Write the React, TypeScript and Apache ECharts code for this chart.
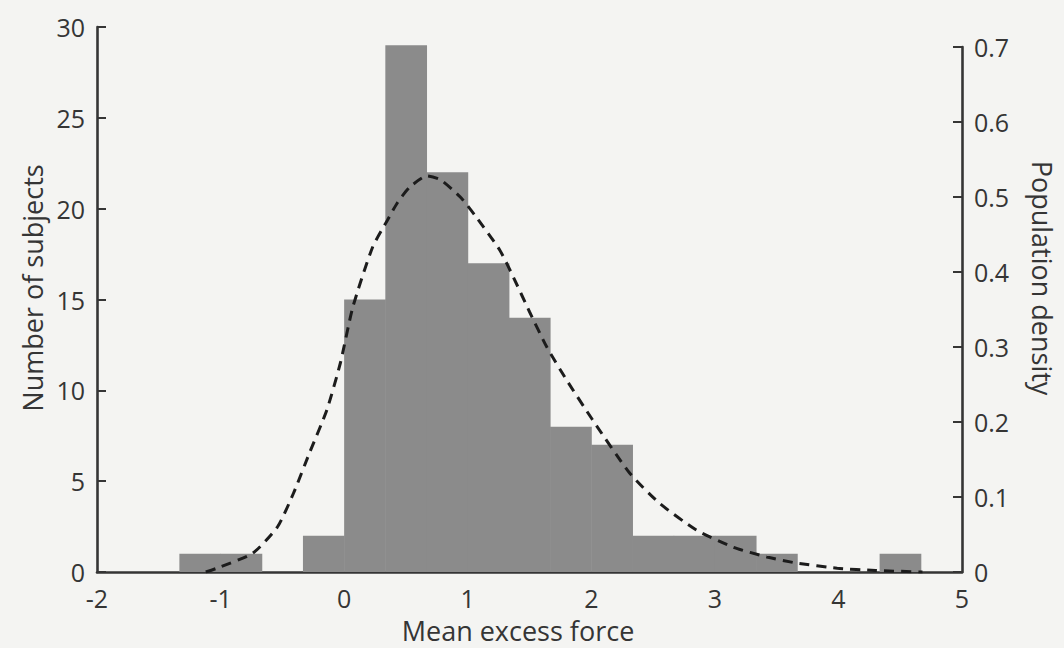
import React, { useEffect, useRef } from "react";
import * as echarts from "echarts";

// Histogram of mean excess force: bin edges (width 1/3) and subject counts per bin
const binEdges = [
  -4 / 3, -1, -2 / 3, -1 / 3, 0, 1 / 3, 2 / 3, 1, 4 / 3, 5 / 3, 2, 7 / 3, 8 / 3, 3, 10 / 3, 11 / 3, 4, 13 / 3, 14 / 3,
];
const subjectCounts = [1, 1, 0, 2, 15, 29, 22, 17, 14, 8, 7, 2, 2, 2, 1, 0, 0, 1];

// Fitted population density (dashed curve)
const densityX = [
  -1.12, -1.03, -0.74, -0.54, -0.41, -0.28, -0.14, -0.03, 0.07, 0.23, 0.35, 0.43, 0.53, 0.67, 0.78, 0.94, 1.07,
  1.26, 1.37, 1.5, 1.64, 1.8, 2.01, 2.31, 2.55, 2.85, 3.15, 3.42, 3.66, 3.99, 4.3, 4.68,
];
const densityY = [
  0, 0.005, 0.025, 0.06, 0.105, 0.159, 0.216, 0.279, 0.353, 0.433, 0.469, 0.492, 0.513, 0.528, 0.523, 0.5, 0.473,
  0.429, 0.393, 0.347, 0.3, 0.256, 0.203, 0.132, 0.092, 0.056, 0.033, 0.02, 0.012, 0.005, 0.002, 0,
];

const xTicks = { min: -2, max: 5, interval: 1 };
const countTicks = { min: 0, max: 30, interval: 5 };
const densityTicks = { min: 0, max: 0.7, interval: 0.1 };

const INK = "#353535";
const BAR = "#8b8b8b";
const FONT = "'Open Sans', 'Noto Sans', sans-serif";

export default function App() {
  const ref = useRef<HTMLDivElement>(null);

  useEffect(() => {
    if (!ref.current) return;
    const chart = echarts.init(ref.current, undefined, { renderer: "svg" });

    const histData = subjectCounts.map((c, i) => [binEdges[i], binEdges[i + 1], c]);
    const curveData = densityX.map((x, i) => [x, densityY[i]]);

    const axisLine = { show: true, onZero: false, lineStyle: { color: INK, width: 2.6 } };
    const axisLabel = { color: INK, fontSize: 25, fontFamily: FONT };
    const axisTick = { show: true, inside: true, length: 9, lineStyle: { color: INK, width: 2 } };

    chart.setOption({
      animation: false,
      backgroundColor: "#f4f4f2",
      grid: [
        { left: 97, right: 102, top: 27, bottom: 76 },
        { left: 97, right: 102, top: 47, bottom: 76 },
      ],
      xAxis: [
        {
          type: "value",
          gridIndex: 0,
          ...xTicks,
          axisLine,
          axisTick: { show: false },
          splitLine: { show: false },
          axisLabel: { ...axisLabel, margin: 13 },
        },
        {
          type: "value",
          gridIndex: 1,
          ...xTicks,
          show: false,
        },
      ],
      yAxis: [
        {
          type: "value",
          gridIndex: 0,
          position: "left",
          ...countTicks,
          axisLine,
          axisTick,
          splitLine: { show: false },
          axisLabel: { ...axisLabel, margin: 12 },
        },
        {
          type: "value",
          gridIndex: 1,
          position: "right",
          ...densityTicks,
          axisLine,
          axisTick,
          splitLine: { show: false },
          axisLabel: { ...axisLabel, margin: 12 },
        },
      ],
      series: [
        {
          type: "custom",
          xAxisIndex: 0,
          yAxisIndex: 0,
          data: histData,
          z: 1,
          renderItem: (params: any, api: any) => {
            const p0 = api.coord([api.value(0), api.value(2)]);
            const p1 = api.coord([api.value(1), 0]);
            return {
              type: "rect",
              shape: { x: p0[0], y: p0[1], width: p1[0] - p0[0] + 0.5, height: p1[1] - p0[1] },
              style: { fill: BAR },
            };
          },
        },
        {
          type: "line",
          xAxisIndex: 1,
          yAxisIndex: 1,
          data: curveData,
          smooth: 0.2,
          symbol: "none",
          z: 3,
          lineStyle: { color: "#1c1c1c", width: 3, type: [10, 7] },
        },
      ],
      graphic: [
        {
          type: "text",
          x: 32,
          y: 288,
          rotation: Math.PI / 2,
          style: {
            text: "Number of subjects",
            fill: INK,
            fontSize: 27,
            fontFamily: FONT,
            align: "center",
            verticalAlign: "middle",
          },
        },
        {
          type: "text",
          x: 1042,
          y: 278,
          rotation: -Math.PI / 2,
          style: {
            text: "Population density",
            fill: INK,
            fontSize: 27,
            fontFamily: FONT,
            align: "center",
            verticalAlign: "middle",
          },
        },
        {
          type: "text",
          x: 518,
          y: 630,
          style: {
            text: "Mean excess force",
            fill: INK,
            fontSize: 27,
            fontFamily: FONT,
            align: "center",
            verticalAlign: "middle",
          },
        },
      ],
    });

    return () => chart.dispose();
  }, []);

  return (
    <div
      ref={ref}
      style={{ position: "fixed", left: 0, top: 0, width: 1064, height: 648 }}
    />
  );
}
